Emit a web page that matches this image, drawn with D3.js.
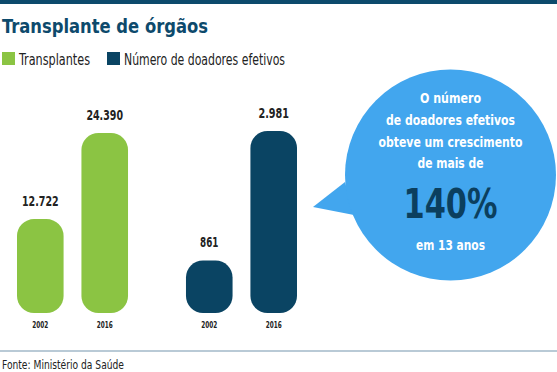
<!DOCTYPE html>
<html>
<head>
<meta charset="utf-8">
<script src="https://cdn.jsdelivr.net/npm/d3@7"></script>
<style>
  html, body { margin: 0; padding: 0; background: #fff; }
  svg { display: block; }
  text { font-family: "DejaVu Sans Condensed", "Liberation Sans Narrow", "Roboto", sans-serif; }
</style>
</head>
<body>
<svg id="chart" width="557" height="372"></svg>
<script>
// ---- data ----
const title = "Transplante de órgãos";
const seriesNames = ["Transplantes", "Número de doadores efetivos"];
const years = ["2002", "2016"];
const transplantes = [12722, 24390];
const doadores = [861, 2981];
const valueLabels = [["12.722", "24.390"], ["861", "2.981"]];
const bubbleLines = ["O número", "de doadores efetivos", "obteve um crescimento", "de mais de"];
const bubbleBig = "140%";
const bubbleEnd = "em 13 anos";
const source = "Fonte: Ministério da Saúde";

// ---- styles ----
const GREEN = "#8bc443", NAVY = "#0a4463", BUBBLE = "#42a6ee", TITLE = "#0d4a6c";

const svg = d3.select("#chart");

// squeeze a text element to a target width (condensed look of the original typeface)
function fit(sel, w) {
  const n = sel.node();
  if (n.getComputedTextLength() > w) sel.attr("textLength", w).attr("lengthAdjust", "spacingAndGlyphs");
  return sel;
}

// top rule
svg.append("rect").attr("x", 0).attr("y", 0).attr("width", 557).attr("height", 4).attr("fill", TITLE);

// title
fit(svg.append("text").attr("x", 2).attr("y", 33).attr("fill", TITLE)
  .attr("font-size", 19.5).attr("font-weight", "bold").text(title), 206);

// legend
const colors = [GREEN, NAVY];
const legX = [2, 107];
const legW = [71, 161];
seriesNames.forEach((n, i) => {
  svg.append("rect").attr("x", legX[i]).attr("y", 52).attr("width", 13).attr("height", 13).attr("fill", colors[i]);
  fit(svg.append("text").attr("x", legX[i] + 17).attr("y", 65).attr("fill", "#222")
    .attr("font-size", 16).text(n), legW[i]);
});

// bars
const base = 313;
const series = [transplantes, doadores];
const outer = d3.scaleBand().domain([0, 1]).range([17, 297]).paddingInner(0.343).paddingOuter(0);
const inner = d3.scaleBand().domain(years).range([0, outer.bandwidth()]).paddingInner(0.277).paddingOuter(0);
const yScales = [
  d3.scaleLinear().domain([0, d3.max(transplantes)]).range([0, 180]),
  d3.scaleLinear().domain([0, d3.max(doadores)]).range([0, 182])
];

series.forEach((vals, si) => {
  const g = svg.append("g").attr("transform", `translate(${outer(si)},0)`);
  const data = years.map((y, i) => ({ year: y, v: vals[i], label: valueLabels[si][i] }));
  g.selectAll("rect").data(data).join("rect")
    .attr("x", d => inner(d.year))
    .attr("y", d => base - yScales[si](d.v))
    .attr("width", inner.bandwidth())
    .attr("height", d => yScales[si](d.v))
    .attr("rx", 17).attr("ry", 17)
    .attr("fill", colors[si]);
  g.selectAll("text.val").data(data).join("text").attr("class", "val")
    .attr("x", d => inner(d.year) + inner.bandwidth() / 2)
    .attr("y", d => base - yScales[si](d.v) - 13)
    .attr("text-anchor", "middle").attr("font-size", 14).attr("font-weight", "bold")
    .attr("fill", "#222").text(d => d.label)
    .each(function () { fit(d3.select(this), this.textContent.length * 6.1); });
  g.selectAll("text.yr").data(data).join("text").attr("class", "yr")
    .attr("x", d => inner(d.year) + inner.bandwidth() / 2)
    .attr("y", 328)
    .attr("text-anchor", "middle").attr("font-size", 8.5).attr("font-weight", "bold")
    .attr("fill", "#222").text(d => d.year)
    .each(function () { fit(d3.select(this), 16); });
});

// bubble
const cx = 450.5, cy = 175, r = 105.5;
svg.append("path").attr("d", "M345,182 L313,207 L354,215 Z").attr("fill", BUBBLE);
svg.append("circle").attr("cx", cx).attr("cy", cy).attr("r", r).attr("fill", BUBBLE);
const lineY = [103, 125, 147, 168];
const lineW = [61, 129, 144, 66];
bubbleLines.forEach((t, i) => {
  fit(svg.append("text").attr("x", cx).attr("y", lineY[i]).attr("text-anchor", "middle")
    .attr("fill", "#fff").attr("font-size", 13.5).attr("font-weight", "bold").text(t), lineW[i]);
});
fit(svg.append("text").attr("x", cx).attr("y", 218).attr("text-anchor", "middle")
  .attr("fill", "#0b3f5e").attr("font-size", 41).attr("font-weight", "bold").text(bubbleBig), 94);
fit(svg.append("text").attr("x", cx).attr("y", 250).attr("text-anchor", "middle")
  .attr("fill", "#fff").attr("font-size", 13.5).attr("font-weight", "bold").text(bubbleEnd), 69);

// bottom rule + source
svg.append("rect").attr("x", 0).attr("y", 350).attr("width", 557).attr("height", 2).attr("fill", "#b9cad6");
fit(svg.append("text").attr("x", 2).attr("y", 369).attr("fill", "#222").attr("font-size", 12.5).text(source), 122);
</script>
</body>
</html>
